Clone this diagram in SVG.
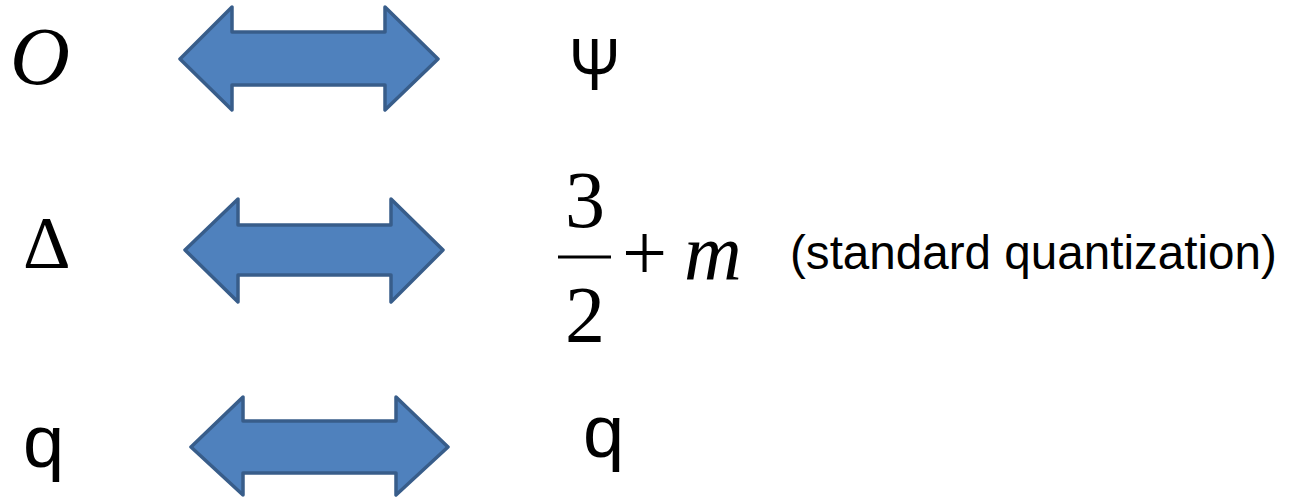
<svg xmlns="http://www.w3.org/2000/svg" width="1299" height="501" viewBox="0 0 1299 501">
<style>
.arrow{fill:#4F81BD;stroke:#385D8A;stroke-width:3.5;stroke-linejoin:round}
.serif{font-family:"Liberation Serif","Times New Roman",serif;fill:#000}
.sans{font-family:"Liberation Sans",Arial,sans-serif;fill:#000}
</style>
<rect width="1299" height="501" fill="#fff"/>
<g id="connectors">
<polygon class="arrow" points="180,59 232,7 232,32 385,32 385,7 438,59 385,110 385,85 232,85 232,110"/>
<polygon class="arrow" points="185,250 238,199 238,225 391,225 391,199 443,250 391,302 391,275 238,275 238,302"/>
<polygon class="arrow" points="191,447 243,397 243,421 396,421 396,397 448,447 396,495 396,473 243,473 243,495"/>
</g>
<g id="node-O"><text class="serif" x="10" y="84" font-size="83" font-style="italic">O</text></g>
<g id="node-psi"><text class="sans" transform="translate(569,90) scale(0.83,1)" font-size="74">Ψ</text></g>
<g id="node-delta"><text class="serif" x="23" y="268" font-size="74">Δ</text></g>
<g id="node-dim">
<text class="serif" x="565" y="227" font-size="80">3</text>
<line x1="558" y1="257" x2="611" y2="257" stroke="#000" stroke-width="3"/>
<text class="serif" x="565" y="342" font-size="80">2</text>
<text class="serif" x="622" y="280" font-size="80">+</text>
<text class="serif" x="684" y="279" font-size="80" font-style="italic">m</text>
<text class="sans" x="790" y="269" font-size="47.6">(standard quantization)</text>
</g>
<g id="node-q-left"><text class="sans" x="23" y="467" font-size="74">q</text></g>
<g id="node-q-right"><text class="sans" x="583" y="457" font-size="74">q</text></g>
</svg>
